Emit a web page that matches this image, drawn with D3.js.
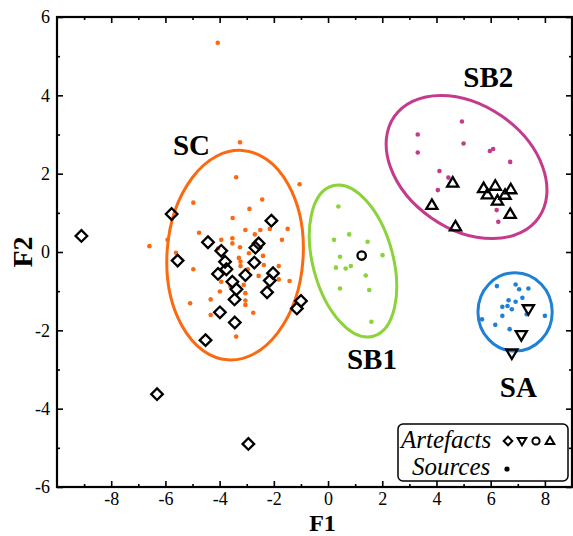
<!DOCTYPE html>
<html><head><meta charset="utf-8">
<script src="https://cdn.jsdelivr.net/npm/d3@7/dist/d3.min.js"></script>
<style>body{margin:0;background:#fff}svg{display:block}</style>
</head><body>
<svg id="c" width="573" height="536"></svg>
<script>
// ---- data ----
const xTicks = [-8,-6,-4,-2,0,2,4,6,8];
const yTicks = [-6,-4,-2,0,2,4,6];
const xMinor = [-9,-7,-5,-3,-1,1,3,5,7];
const yMinor = [-5,-3,-1,1,3,5];

const scSources = [[-4.07,5.34],[-3.25,2.80],[-3.39,1.91],[-1.05,1.73],[-4.97,1.26],[-2.43,1.34],[-2.90,1.10],[-3.52,0.87],
 [-6.59,0.15],[-5.92,0.31],[-4.76,0.49],[-3.05,0.56],[-2.50,0.56],[-2.70,0.45],[-2.15,0.59],[-1.49,0.59],[-1.70,0.31],
 [-3.94,0.31],[-3.53,0.35],[-3.53,0.22],[-3.25,0.12],[-4.06,0.09],[-2.92,-0.03],[-3.29,-0.15],[-2.40,-0.10],[-4.97,-0.44],
 [-5.61,-0.02],[-3.23,-0.25],[-3.23,-0.36],[-2.96,-0.44],[-2.37,-0.33],[-1.82,-0.36],[-2.56,-0.61],[-1.82,-0.70],[-1.42,-0.74],
 [-3.94,-0.76],[-3.60,-0.89],[-3.11,-0.84],[-3.05,-1.05],[-3.99,-1.01],[-4.33,-1.21],[-3.05,-1.24],[-3.05,-1.35],[-5.09,-1.31],
 [-4.33,-1.61],[-2.76,-1.55],[-3.39,-2.16]];
const sb1Sources = [[0.38,1.16],[0.78,0.45],[0.22,0.31],[1.46,0.26],[2.01,-0.08],[0.44,-0.12],[0.29,-0.40],[0.65,-0.42],
 [0.84,-0.36],[1.39,-0.60],[0.44,-0.93],[1.52,-0.97],[1.60,-1.78]];
const sb2Sources = [[4.94,3.33],[3.31,3.00],[5.00,2.77],[3.31,2.54],[5.97,2.58],[6.09,2.63],[6.72,2.30],[4.11,2.07],
 [4.44,1.90],[4.05,1.58],[6.22,1.07],[6.28,0.77]];
const saSources = [[6.23,-0.87],[6.92,-0.83],[7.05,-0.95],[7.39,-0.93],[7.17,-1.17],[6.66,-1.23],[6.92,-1.27],[6.43,-1.40],
 [6.62,-1.38],[6.78,-1.46],[7.33,-1.59],[6.43,-1.63],[5.68,-1.72],[8.00,-1.63],[6.17,-1.86],[6.70,-1.97]];

const scArtefacts = [[-9.10,0.41],[-6.31,-3.63],[-2.94,-4.90],[-5.77,0.97],[-5.55,-0.22],[-4.43,0.25],[-3.94,0.03],[-3.80,-0.25],
 [-3.75,-0.44],[-4.06,-0.56],[-3.05,-0.59],[-3.53,-0.76],[-3.38,-0.95],[-3.45,-1.21],[-2.72,-0.27],[-2.68,0.11],[-2.56,0.22],
 [-2.09,0.80],[-2.03,-0.54],[-2.15,-0.73],[-2.25,-1.03],[-1.00,-1.25],[-1.15,-1.44],[-3.99,-1.54],[-3.44,-1.80],[-4.52,-2.25]];
const sb1Artefacts = [[1.24,-0.09]];
const sb2Artefacts = [[4.60,1.77],[3.83,1.20],[4.70,0.65],[5.74,1.63],[6.17,1.69],[5.88,1.47],[6.25,1.31],[6.53,1.46],[6.74,1.60],[6.72,0.97]];
const saArtefacts = [[7.39,-1.46],[7.13,-2.12],[6.78,-2.59]];

// group ellipses: name, center (data), semi-axes (data units), rotation (deg)
const groupNames = ["SC","SB1","SB2","SA"];
const groupCenters = [[-3.43,-0.08],[0.92,-0.23],[5.11,2.17],[6.90,-1.53]];
const groupRadii = [[2.51,2.68],[1.48,1.99],[3.25,1.58],[1.37,1.0]];
const groupRotation = [4,-15,35,0];
const groupLabelPos = [[-5.04,2.72],[1.62,-2.72],[5.91,4.47],[7.02,-3.44]];

// ---- drawing ----
const colors = ["#fb6a10","#8bd33b","#c43b8e","#1f80d6"];
const svg = d3.select("#c");
const L=57, R=572, T=17, B=487;
const x = d3.scaleLinear().domain([-10,9]).range([L,R]);
const y = d3.scaleLinear().domain([-6,6]).range([B,T]);
const serif = "'Liberation Serif','DejaVu Serif',serif";

// ellipses
groupNames.forEach((g,i)=>{
  const cx=x(groupCenters[i][0]), cy=y(groupCenters[i][1]);
  const rx=x(groupCenters[i][0]+groupRadii[i][0])-cx;
  const ry=cy-y(groupCenters[i][1]+groupRadii[i][1]);
  svg.append("ellipse").attr("cx",cx).attr("cy",cy).attr("rx",rx).attr("ry",ry)
    .attr("transform",`rotate(${groupRotation[i]},${cx},${cy})`)
    .attr("fill","none").attr("stroke",colors[i]).attr("stroke-width",3);
  svg.append("text").attr("x",x(groupLabelPos[i][0])).attr("y",y(groupLabelPos[i][1]))
    .attr("text-anchor","middle").attr("dominant-baseline","central")
    .attr("font-family",serif).attr("font-weight","bold").attr("font-size",29).text(g);
});

// source dots
[scSources,sb1Sources,sb2Sources,saSources].forEach((arr,i)=>{
  svg.append("g").selectAll("circle").data(arr).join("circle")
    .attr("cx",d=>x(d[0])).attr("cy",d=>y(d[1])).attr("r",2.3).attr("fill",colors[i]);
});

// artefacts
const sw=2.3;
svg.append("g").selectAll("path").data(scArtefacts).join("path")
  .attr("d",d=>{const X=x(d[0]),Y=y(d[1]),s=5.8;return `M${X},${Y-s}L${X+s},${Y}L${X},${Y+s}L${X-s},${Y}Z`;})
  .attr("fill","none").attr("stroke","#000").attr("stroke-width",sw);
svg.append("g").selectAll("circle").data(sb1Artefacts).join("circle")
  .attr("cx",d=>x(d[0])).attr("cy",d=>y(d[1])).attr("r",4.2)
  .attr("fill","none").attr("stroke","#000").attr("stroke-width",sw);
const triUp=(X,Y,s)=>`M${X},${Y-s}L${X+s*1.0},${Y+s*0.7}L${X-s*1.0},${Y+s*0.7}Z`;
const triDn=(X,Y,s)=>`M${X},${Y+s}L${X+s*1.0},${Y-s*0.7}L${X-s*1.0},${Y-s*0.7}Z`;
svg.append("g").selectAll("path").data(sb2Artefacts).join("path")
  .attr("d",d=>triUp(x(d[0]),y(d[1]),5.6))
  .attr("fill","none").attr("stroke","#000").attr("stroke-width",sw).attr("stroke-linejoin","miter");
svg.append("g").selectAll("path").data(saArtefacts).join("path")
  .attr("d",d=>triDn(x(d[0]),y(d[1]),5.6))
  .attr("fill","none").attr("stroke","#000").attr("stroke-width",sw);

// axes
function styleAxis(g){g.select(".domain").remove();g.selectAll("line").attr("stroke","#000").attr("stroke-width",1.6);
  g.selectAll("text").attr("font-family",serif).attr("font-size",18).attr("fill","#000");}
svg.append("g").attr("transform",`translate(0,${B})`).call(d3.axisBottom(x).tickValues(xTicks).tickSize(-6).tickPadding(5).tickFormat(d3.format("d"))).call(styleAxis);
svg.append("g").attr("transform",`translate(0,${B})`).call(d3.axisBottom(x).tickValues(xMinor).tickSize(-3).tickFormat("")).call(styleAxis);
svg.append("g").attr("transform",`translate(0,${T})`).call(d3.axisTop(x).tickValues(xTicks).tickSize(-6).tickFormat("")).call(styleAxis);
svg.append("g").attr("transform",`translate(0,${T})`).call(d3.axisTop(x).tickValues(xMinor).tickSize(-3).tickFormat("")).call(styleAxis);
svg.append("g").attr("transform",`translate(${L},0)`).call(d3.axisLeft(y).tickValues(yTicks).tickSize(-6).tickPadding(7).tickFormat(d3.format("d"))).call(styleAxis);
svg.select("g:last-of-type").selectAll("text").attr("font-size",19);
svg.append("g").attr("transform",`translate(${L},0)`).call(d3.axisLeft(y).tickValues(yMinor).tickSize(-3).tickFormat("")).call(styleAxis);
svg.append("g").attr("transform",`translate(${R},0)`).call(d3.axisRight(y).tickValues(yTicks).tickSize(-6).tickFormat("")).call(styleAxis);
svg.append("g").attr("transform",`translate(${R},0)`).call(d3.axisRight(y).tickValues(yMinor).tickSize(-3).tickFormat("")).call(styleAxis);
svg.selectAll("text").filter(function(){return this.textContent.startsWith("−");}).text(function(){return "-"+this.textContent.slice(1);});
svg.append("rect").attr("x",L).attr("y",T).attr("width",R-L).attr("height",B-T)
  .attr("fill","none").attr("stroke","#000").attr("stroke-width",2.2);

// axis titles
svg.append("text").attr("x",(L+R)/2+8).attr("y",530.8).attr("text-anchor","middle")
  .attr("font-family",serif).attr("font-weight","bold").attr("font-size",24).text("F1");
svg.append("text").attr("transform",`translate(32,${y(0)}) rotate(-90)`).attr("text-anchor","middle")
  .attr("font-family",serif).attr("font-weight","bold").attr("font-size",28).text("F2");

// legend
const lg=svg.append("g");
lg.append("rect").attr("x",398).attr("y",424).attr("width",170).attr("height",57).attr("rx",5)
  .attr("fill","#fff").attr("stroke","#000").attr("stroke-width",1.5);
lg.append("text").attr("x",401).attr("y",448).attr("font-family",serif).attr("font-style","italic").attr("font-size",25).text("Artefacts");
lg.append("text").attr("x",412).attr("y",475).attr("font-family",serif).attr("font-style","italic").attr("font-size",25).text("Sources");
const ly=441, ls=4.3;
lg.append("path").attr("d",`M508,${ly-ls}L${508+ls},${ly}L508,${ly+ls}L${508-ls},${ly}Z`).attr("fill","none").attr("stroke","#000").attr("stroke-width",2);
lg.append("path").attr("d",triDn(522,ly,4.3)).attr("fill","none").attr("stroke","#000").attr("stroke-width",2);
lg.append("circle").attr("cx",536).attr("cy",ly).attr("r",3.6).attr("fill","none").attr("stroke","#000").attr("stroke-width",2);
lg.append("path").attr("d",triUp(550,ly,4.3)).attr("fill","none").attr("stroke","#000").attr("stroke-width",2);
lg.append("circle").attr("cx",507).attr("cy",469).attr("r",2.6).attr("fill","#000");
</script>
</body></html>
